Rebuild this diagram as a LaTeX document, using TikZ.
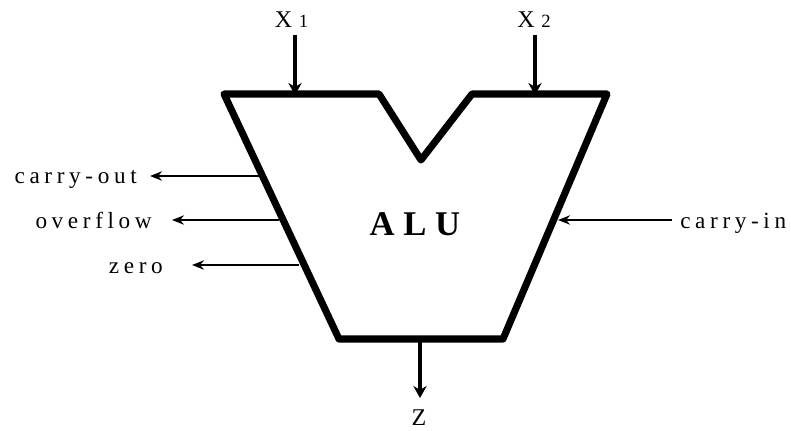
\documentclass[tikz,border=0pt]{standalone}
\usepackage{fontspec}
\setmainfont{Liberation Serif}
\newfontfamily\spacedfont[LetterSpace=20]{Liberation Serif}
\usetikzlibrary{arrows.meta, calc, positioning}

\tikzset{
    signal/.style={font=\fontsize{17.4}{20}\selectfont\spacedfont, inner sep=0pt},
    port/.style={font=\fontsize{18}{20}\selectfont, inner sep=0pt, anchor=base},
    bus/.style={-{Stealth[length=9pt,width=10pt]}, line width=2.3pt},
    flag/.style={-{Stealth[length=9pt,width=7pt]}, line width=1.5pt}
}

\begin{document}
\begin{tikzpicture}[x=0.75pt, y=-0.75pt]
\useasboundingbox (0,0) rectangle (791,430);

\coordinate (tl) at (224,94);
\coordinate (tm) at (379,94);
\coordinate (notch) at (421,160);
\coordinate (tr) at (472,94);
\coordinate (re) at (607,94);
\coordinate (br) at (503,339);
\coordinate (bl) at (339,339);
\draw[line width=5.3pt, line join=round] (tl) -- (tm) -- (notch) -- (tr) -- (re) -- (br) -- (bl) -- cycle;

\node[font=\fontsize{26}{28}\selectfont\bfseries, inner sep=0pt, anchor=base] (alu) at (415,235) {A L U};

\node[port] (xa) at (291.5,27) {X\;{\fontsize{14}{16}\selectfont 1}};
\node[port] (xb) at (534,27) {X\;{\fontsize{14}{16}\selectfont 2}};
\coordinate (xaend) at (295,35);
\coordinate (xbend) at (535,35);
\coordinate (xain) at (295,95);
\coordinate (xbin) at (535,95);
\draw[bus] (xaend) -- (xain);
\draw[bus] (xbend) -- (xbin);

\coordinate (zout) at (420,339);
\coordinate (zend) at (420,398);
\node[port] (z) at (419,425.5) {Z};
\draw[bus] (zout) -- (zend);

\node[signal, anchor=base east] (cout) at (137,183) {carry-out};
\node[signal, anchor=base east] (ovf) at (152,228) {overflow};
\node[signal, anchor=base east] (zero) at (163,273) {zero};
\node[signal, anchor=base west] (cin) at (680,228) {carry-in};

\coordinate (coutend) at (150,176);
\coordinate (ovfend) at (172,220);
\coordinate (zeroend) at (192,265);
\coordinate (coutedge) at (259,176);
\coordinate (ovfedge) at (279,220);
\coordinate (zeroedge) at (299,265);
\coordinate (cinedge) at (558,220);
\coordinate (cinstart) at (672,220);

\draw[flag] (coutedge) -- (coutend);
\draw[flag] (ovfedge) -- (ovfend);
\draw[flag] (zeroedge) -- (zeroend);
\draw[flag] (cinstart) -- (cinedge);
\end{tikzpicture}
\end{document}
